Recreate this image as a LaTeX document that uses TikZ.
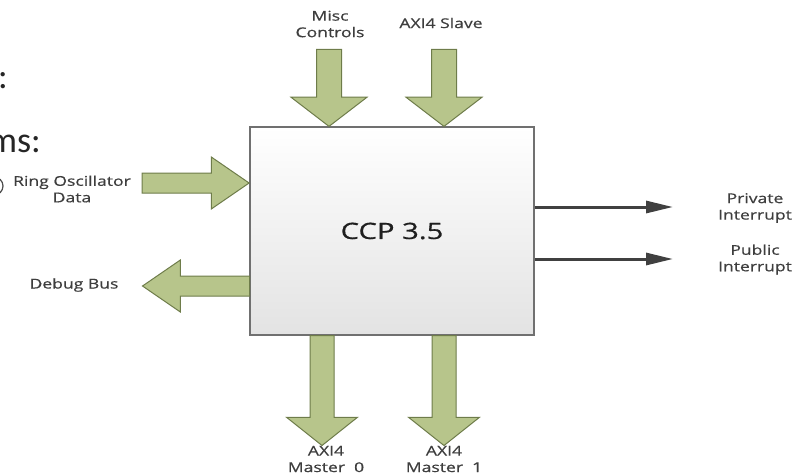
\documentclass[tikz,border=0pt]{standalone}
\usepackage{fontspec}
\setmainfont{Open Sans}[FakeStretch=1.3,FakeBold=0.6]
\newfontfamily\slidefont{Carlito}
\usetikzlibrary{shapes.arrows,arrows.meta}
\definecolor{arrowfill}{RGB}{183,197,139}
\definecolor{arrowedge}{RGB}{110,124,74}
\definecolor{boxedge}{RGB}{112,112,112}
\definecolor{labeltext}{RGB}{62,62,62}
\definecolor{wire}{RGB}{64,64,64}
\tikzset{
  blk/.style={single arrow, draw=arrowedge, fill=arrowfill, line width=1pt,
    inner xsep=0pt, single arrow head indent=0pt, minimum width=0pt},
  blkvert/.style={blk, minimum height=77, inner ysep=12,
    single arrow head extend=25.5, single arrow tip angle=105},
  blkdown/.style={blk, minimum height=110, inner ysep=11.5,
    single arrow head extend=23.5, single arrow tip angle=103},
  blkside/.style={blk, minimum height=107, inner ysep=9.5,
    single arrow head extend=16, single arrow tip angle=69},
  lbl/.style={text=labeltext, align=center, inner sep=0pt,
    font=\fontsize{13.5}{16.5}\selectfont},
  wirearrow/.style={draw=wire, line width=3pt,
    -{Triangle[length=27pt,width=12pt]}},
  bigtext/.style={text=black!85, inner sep=0pt,
    font=\slidefont\fontsize{36}{40}\selectfont}
}
\begin{document}
\begin{tikzpicture}[x=1pt,y=-1pt]
\useasboundingbox (0,0) rectangle (794,475);
\clip (0,0) rectangle (794,475);

% fragments of surrounding text at the left edge
\node[bigtext, anchor=base east] (colonA) at (8,88) {:};
\node[bigtext, anchor=base east] (msfrag) at (41,152) {ms:};
\draw[black!70, line width=1.2pt] (-6,186) circle[radius=9];

% central block
\node[draw=boxedge, line width=1.5pt, top color=white, bottom color=black!11,
      minimum width=284, minimum height=208, inner sep=0pt,
      font=\fontsize{22.5}{27}\selectfont, text=black!88]
      (ccp) at (392,231) {CCP 3.5};

% inputs from above
\node[blkvert, rotate=-90, anchor=tip] (misc) at (329,127) {};
\node[blkvert, rotate=-90, anchor=tip] (slave) at (444,127) {};
% input from the left
\node[blkside, anchor=tip] (ring) at (250,183) {};
% output to the left
\node[blkside, rotate=180, anchor=tail] (debug) at (250,286) {};
% outputs below
\node[blkdown, rotate=-90, anchor=tail] (mst0) at (322,335) {};
\node[blkdown, rotate=-90, anchor=tail] (mst1) at (444,335) {};

% interrupt lines
\coordinate (privend) at (673,207);
\coordinate (pubend) at (673,259);
\draw[wirearrow] (ccp.east |- privend) -- (privend);
\draw[wirearrow] (ccp.east |- pubend) -- (pubend);

% labels
\node[lbl] (lmisc) at (330,24) {Misc\\Controls};
\node[lbl] (lslave) at (441,23) {AXI4 Slave};
\node[lbl] (lring) at (72,189) {Ring Oscillator\\Data};
\node[lbl] (ldebug) at (74,285) {Debug Bus};
\node[lbl] (lpriv) at (755,208) {Private\\Interrupt};
\node[lbl] (lpub) at (755,259.5) {Public\\Interrupt};
\node[lbl] (lm0) at (326,459) {AXI4\\Master\ \ 0};
\node[lbl] (lm1) at (444,459) {AXI4\\Master\ \ 1};
\end{tikzpicture}
\end{document}
